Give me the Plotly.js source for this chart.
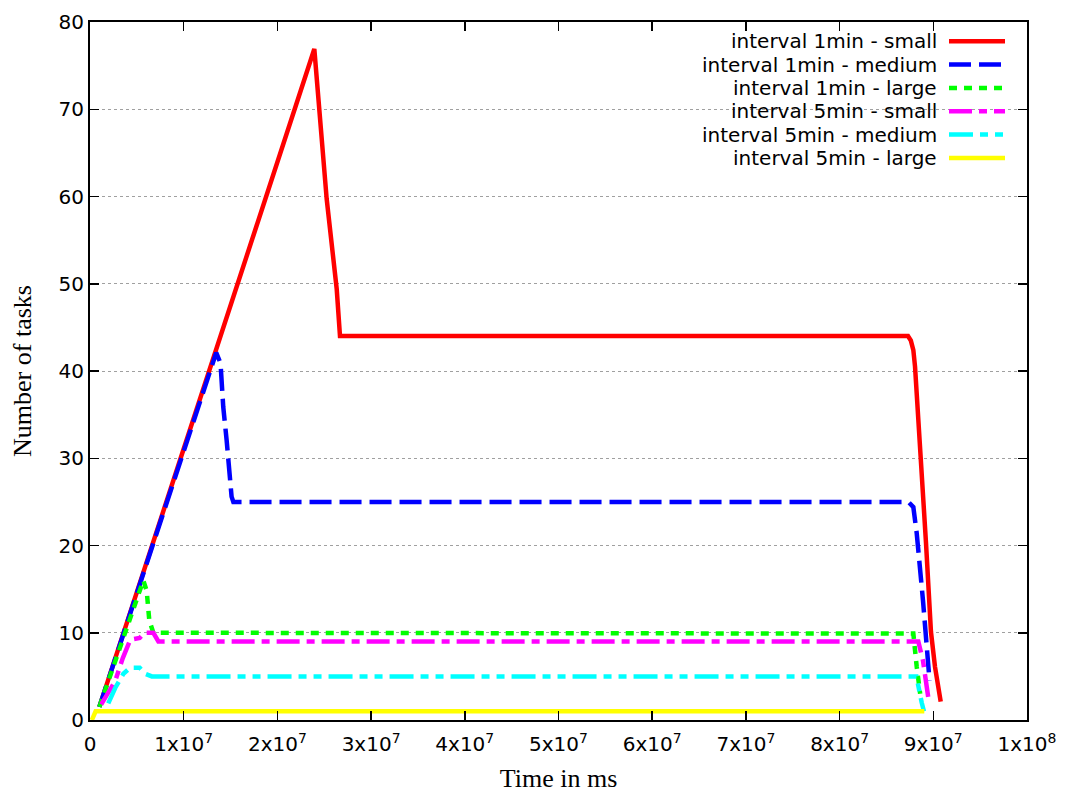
<!DOCTYPE html>
<html>
<head>
<meta charset="utf-8">
<script src="https://cdn.plot.ly/plotly-3.0.1.min.js"></script>
<style>html,body{margin:0;padding:0;background:#fff;}#chart{width:1068px;height:794px;}</style>
</head>
<body>
<div id="chart"></div>
<script>
// ---- data (time in ms, number of tasks) ----
const seriesNames = [
  "interval 1min - small",
  "interval 1min - medium",
  "interval 1min - large",
  "interval 5min - small",
  "interval 5min - medium",
  "interval 5min - large"
];

const time1minSmall = [0.10e7, 2.394e7, 2.526e7, 2.633e7, 2.668e7, 8.73e7, 8.76e7, 8.787e7, 8.805e7, 8.869e7, 8.922e7, 8.975e7, 9.018e7, 9.079e7];
const tasks1minSmall = [1.5, 76.9, 59.7, 49.4, 44, 44, 43.5, 42.4, 40.5, 30.1, 20.3, 10.1, 6.1, 2.1];

const time1minMedium = [0.10e7, 1.347e7, 1.393e7, 1.422e7, 1.458e7, 1.494e7, 1.511e7, 1.53e7, 8.733e7, 8.787e7, 8.823e7, 8.89e7, 8.93e7, 8.95e7, 8.96e7];
const tasks1minMedium = [1.5, 42.1, 40.9, 35.9, 32.1, 28.2, 25.6, 25, 25, 24.4, 21.4, 13.7, 8.0, 5.4, 4.5];

const time1minLarge = [0.10e7, 0.569e7, 0.605e7, 0.633e7, 0.676e7, 8.75e7, 8.787e7, 8.823e7, 8.86e7];
const tasks1minLarge = [1.5, 16, 14.8, 11.4, 10, 10, 9.9, 6.1, 3];

const time5minSmall = [0.12e7, 0.27e7, 0.35e7, 0.43e7, 0.53e7, 0.58e7, 0.676e7, 0.73e7, 8.84e7, 8.89e7, 8.95e7];
const tasks5minSmall = [1.8, 4.5, 7.1, 9.2, 9.4, 10, 10, 9, 9, 6.8, 2.3];

const time5minMedium = [0.195e7, 0.27e7, 0.356e7, 0.43e7, 0.53e7, 0.59e7, 0.66e7, 8.82e7, 8.876e7, 8.9e7];
const tasks5minMedium = [1.9, 3.7, 5.3, 6, 6, 5.3, 5, 5, 2, 1];

const time5minLarge = [0.02e7, 0.06e7, 8.904e7];
const tasks5minLarge = [0, 1, 1];

const xTickVals = [0, 1e7, 2e7, 3e7, 4e7, 5e7, 6e7, 7e7, 8e7, 9e7, 1e8];
const xTickText = ["0", "1x10<sup>7</sup>", "2x10<sup>7</sup>", "3x10<sup>7</sup>", "4x10<sup>7</sup>",
  "5x10<sup>7</sup>", "6x10<sup>7</sup>", "7x10<sup>7</sup>", "8x10<sup>7</sup>", "9x10<sup>7</sup>", "1x10<sup>8</sup>"];
const yTickVals = [0, 10, 20, 30, 40, 50, 60, 70, 80];

// ---- styles ----
const colors = ["#ff0000", "#0000ff", "#00ff00", "#ff00ff", "#00ffff", "#ffff00"];
const dashes = ["solid", "22px,8px", "8px,7px", "23px,7px,8px,7px", "24px,7px,8px,7px,8px,7px", "solid"];
const LW = 4.5;
const FS = 20;

const xs = [time1minSmall, time1minMedium, time1minLarge, time5minSmall, time5minMedium, time5minLarge];
const ys = [tasks1minSmall, tasks1minMedium, tasks1minLarge, tasks5minSmall, tasks5minMedium, tasks5minLarge];

const traces = xs.map((x, i) => ({
  type: "scatter",
  mode: "lines",
  x: x,
  y: ys[i],
  name: seriesNames[i],
  line: {color: colors[i], width: LW, dash: dashes[i]},
  showlegend: false,
  hoverinfo: "skip"
}));

// ---- custom legend (text right-aligned, sample line to the right) ----
const plotL = 90, plotR = 1027, plotT = 21.7, plotB = 720;
const pw = plotR - plotL, ph = plotB - plotT;
const px2paperX = p => (p - plotL) / pw;
const px2paperY = p => (plotB - p) / ph;

const legendRowY0 = 41, legendRowStep = 23.33;
const annotations = [];
const shapes = [{
  type: "rect", xref: "paper", yref: "paper",
  x0: px2paperX(683), x1: 1, y0: px2paperY(172), y1: 1,
  fillcolor: "#ffffff", line: {width: 0}, layer: "between"
}];
seriesNames.forEach((nm, i) => {
  const py = legendRowY0 + i * legendRowStep;
  annotations.push({
    xref: "paper", yref: "paper",
    x: px2paperX(939), y: px2paperY(py),
    xanchor: "right", yanchor: "middle",
    text: nm, showarrow: false,
    font: {family: "DejaVu Sans", size: FS, color: "#000"}
  });
  shapes.push({
    type: "line", xref: "paper", yref: "paper",
    x0: px2paperX(949), x1: px2paperX(1005),
    y0: px2paperY(py), y1: px2paperY(py),
    line: {color: colors[i], width: LW, dash: dashes[i]}
  });
});

const layout = {
  width: 1068, height: 794,
  margin: {l: plotL, r: 1068 - plotR, t: plotT, b: 794 - plotB, pad: 0},
  paper_bgcolor: "#ffffff", plot_bgcolor: "#ffffff",
  showlegend: false,
  font: {family: "DejaVu Sans", size: FS, color: "#000"},
  xaxis: {
    range: [0, 1e8], autorange: false,
    tickmode: "array", tickvals: xTickVals, ticktext: xTickText,
    ticks: "inside", ticklen: 9, tickwidth: 1.5, tickcolor: "#000",
    ticklabelstandoff: 5,
    showline: true, linecolor: "#000", linewidth: 2, mirror: "ticks",
    showgrid: false, zeroline: false,
    tickfont: {family: "DejaVu Sans", size: FS, color: "#000"},
    title: {text: "Time in ms", font: {family: "Liberation Serif", size: 26, color: "#000"}, standoff: 14},
    automargin: false
  },
  yaxis: {
    range: [0, 80], autorange: false,
    tickmode: "array", tickvals: yTickVals,
    ticks: "inside", ticklen: 9, tickwidth: 1.5, tickcolor: "#000",
    showline: true, linecolor: "#000", linewidth: 2, mirror: "ticks",
    showgrid: true, gridcolor: "#a0a0a0", gridwidth: 1, griddash: "dot",
    zeroline: false,
    tickfont: {family: "DejaVu Sans", size: FS, color: "#000"},
    title: {text: "Number of tasks", font: {family: "Liberation Serif", size: 26, color: "#000"}, standoff: 19},
    automargin: false
  },
  annotations: annotations,
  shapes: shapes
};

Plotly.newPlot("chart", traces, layout, {displayModeBar: false, staticPlot: true});
</script>
</body>
</html>
